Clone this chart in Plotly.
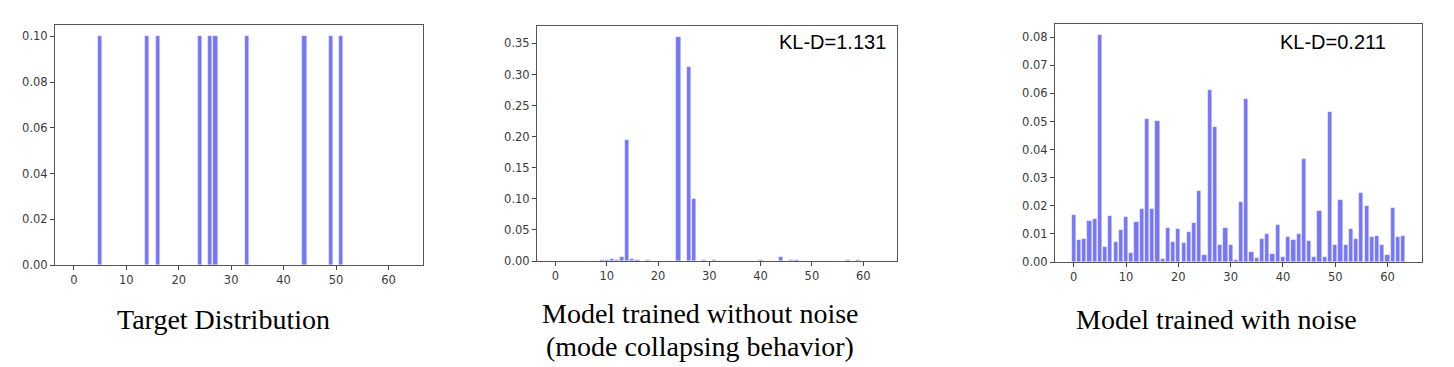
import plotly.graph_objects as go

bins = list(range(64))

# target distribution: ten modes, each 0.1
target_modes = [5, 14, 16, 24, 26, 27, 33, 44, 49, 51]
target_vals = [0.1 if i in target_modes else 0.0 for i in bins]

# model trained without noise (mode collapse)
collapse_pts = {9: 0.001, 10: 0.001, 11: 0.004, 12: 0.001, 13: 0.0065, 14: 0.194,
                15: 0.004, 16: 0.001, 18: 0.001, 24: 0.361, 26: 0.312, 27: 0.099,
                29: 0.001, 31: 0.001, 40: 0.001, 44: 0.0065, 46: 0.001, 47: 0.001,
                57: 0.001, 59: 0.001}
collapse_vals = [collapse_pts.get(i, 0.0) for i in bins]

# model trained with noise
noise_vals = [0.0169, 0.0077, 0.0082, 0.0145, 0.0152, 0.0807, 0.0055, 0.0164,
              0.0071, 0.0113, 0.0161, 0.0032, 0.0141, 0.0188, 0.0508, 0.0188,
              0.0503, 0.0012, 0.0121, 0.0071, 0.0118, 0.0067, 0.0106, 0.0138,
              0.0254, 0.0024, 0.0612, 0.0480, 0.0059, 0.0121, 0.0059, 0.0006,
              0.0215, 0.0581, 0.0037, 0.0013, 0.0083, 0.0099, 0.0027, 0.0130,
              0.0017, 0.0090, 0.0078, 0.0101, 0.0367, 0.0075, 0.0017, 0.0180,
              0.0017, 0.0535, 0.0059, 0.0219, 0.0059, 0.0118, 0.0083, 0.0247,
              0.0200, 0.0089, 0.0094, 0.0059, 0.0025, 0.0191, 0.0089, 0.0094]

kl_labels = ["KL-D=1.131", "KL-D=0.211"]
captions = ["Target Distribution", "Model trained without noise",
            "(mode collapsing behavior)", "Model trained with noise"]

W, H = 1454, 367
OFF = 8  # page body margin


def px(x):
    return (x - OFF) / W


def py(y):
    return 1 - (y - OFF) / H


BAR = "#7676f7"
fig = go.Figure()

# (values, left, right, top, bottom, ymax, dtick) in page pixels
panels = [
    (target_vals, 55, 423, 25, 265, 0.105, 0.02),
    (collapse_vals, 537, 897, 26, 261, 0.378, 0.05),
    (noise_vals, 1055, 1422, 24, 262, 0.0847, 0.01),
]

tickfont = dict(family="DejaVu Sans", size=11.5, color="#3a3a3a")
for k, (vals, l, r, t, b, ymax, dt) in enumerate(panels):
    sfx = "" if k == 0 else str(k + 1)
    fig.add_trace(go.Bar(
        x=bins, y=vals, width=0.8, xaxis="x" + sfx, yaxis="y" + sfx,
        marker=dict(color=BAR, line=dict(color="rgba(255,255,255,0.5)", width=0.6)),
        showlegend=False,
    ))
    fig.layout["xaxis" + sfx] = dict(
        domain=[px(l), px(r)], anchor="y" + sfx, range=[-3.59, 66.59], automargin=False,
        tickvals=[0, 10, 20, 30, 40, 50, 60], ticks="outside", ticklen=4,
        tickcolor="#444", showline=True, linecolor="#555", linewidth=1,
        mirror=True, showgrid=False, zeroline=False, tickfont=tickfont,
    )
    fig.layout["yaxis" + sfx] = dict(
        domain=[py(b), py(t)], anchor="x" + sfx, range=[0, ymax], dtick=dt, tick0=0,
        tickformat=".2f", ticks="outside", ticklen=4, tickcolor="#444",
        showline=True, linecolor="#555", linewidth=1, mirror=True, automargin=False,
        showgrid=False, zeroline=False, tickfont=tickfont,
    )

sans = dict(family="Liberation Sans", size=20, color="black")
serif = dict(family="Liberation Serif", size=28, color="black")
annotations = [
    dict(text=kl_labels[0], x=px(888), y=py(42), xanchor="right", font=sans),
    dict(text=kl_labels[1], x=px(1388), y=py(42), xanchor="right", font=sans),
    dict(text=captions[0], x=px(223), y=py(319), xanchor="center", font=serif),
    dict(text=captions[1], x=px(700), y=py(313), xanchor="center", font=serif),
    dict(text=captions[2], x=px(700), y=py(346), xanchor="center", font=serif),
    dict(text=captions[3], x=px(1216), y=py(319), xanchor="center", font=serif),
]
for a in annotations:
    a.update(xref="paper", yref="paper", yanchor="middle", showarrow=False)

fig.update_layout(
    width=W, height=H, margin=dict(l=0, r=0, t=0, b=0),
    plot_bgcolor="white", paper_bgcolor="white", bargap=0,
    annotations=annotations,
)

fig.write_html("out.html")
